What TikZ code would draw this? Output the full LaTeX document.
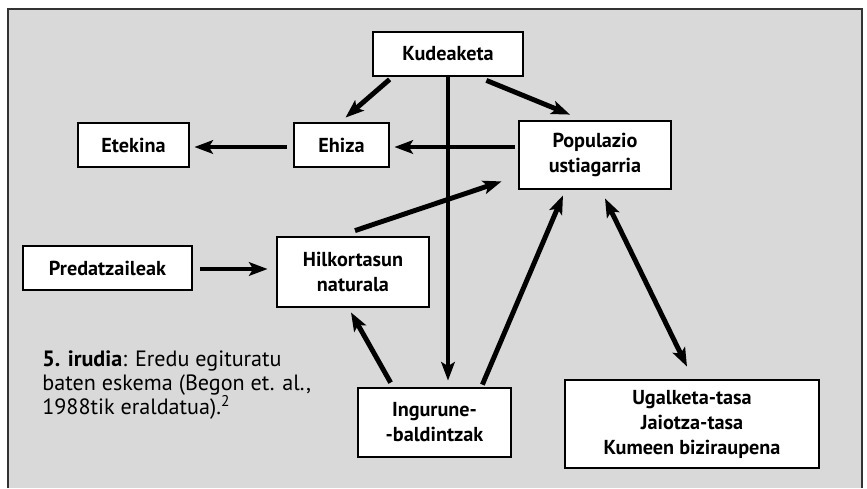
\documentclass[tikz,border=0pt]{standalone}
\usepackage{fontspec}
\setmainfont{PT Sans}
\usepackage{xcolor}
\usepackage{tikz}
\usetikzlibrary{arrows.meta, calc}
\definecolor{FR_GRAY}{HTML}{D9D9D9}
\definecolor{FR_LINE}{HTML}{333333}
\tikzset{
  box/.style={
    rectangle, minimum height=0.88cm, inner sep=2pt,
    text centered, align=center,
    draw=black, line width=1.6pt, fill=white,
    font=\bfseries\fontsize{11.5}{14.2}\selectfont},
  arr/.style={-{Stealth[length=0.37cm,width=0.27cm,inset=0.08cm]}, line width=2.8pt, color=black},
  dblarr/.style={{Stealth[length=0.37cm,width=0.27cm,inset=0.08cm]}-{Stealth[length=0.37cm,width=0.27cm,inset=0.08cm]}, line width=2.8pt, color=black},
  capt/.style={
    anchor=north west, inner sep=0pt, align=left,
    font=\fontsize{12.6}{13.8}\selectfont},
}

\begin{document}
\begin{tikzpicture}[x=0.02cm, y=-0.02cm]

  \useasboundingbox (0,0) rectangle (867,488);
  \fill[white] (0,0) rectangle (867,488);
  \fill[FR_GRAY] (8,9) rectangle (862,488);
  \draw[FR_LINE, line width=0.9pt] (8,488) -- (8,9) -- (862,9) -- (862,488);

  \node[box, minimum width=3.0cm] (kud) at (448,54) {Kudeaketa};

  \node[box, minimum width=1.9cm] (ehiza) at (341.5,145) {Ehiza};

  \node[box, minimum width=2.22cm] (etek) at (133.5,145) {Etekina};

  \node[box, minimum width=3.04cm, minimum height=1.36cm] (pop) at (595,155)
    {Populazio\\ustiagarria};

  \node[box, minimum width=3.38cm] (pred) at (107.5,268) {Predatzaileak};

  \node[box, minimum width=3.04cm, minimum height=1.4cm] (hilk) at (353,272)
    {Hilkortasun\\naturala};

  \node[box, minimum width=3.06cm, minimum height=1.38cm] (ing) at (434.5,422.5)
    {Ingurune-\\-baldintzak};

  \node[box, minimum width=5.08cm, minimum height=1.76cm] (ugal) at (692,424)
    {Ugalketa-tasa\\Jaiotza-tasa\\Kumeen biziraupena};

  \node[capt] (capt) at (42,350)
    {\textbf{5. irudia}: Eredu egituratu\\baten eskema (Begon et. al.,\\1988tik eraldatua).\textsuperscript{2}};

  \draw[arr] ($(kud.south west)+(18,2)$)  -- ($(ehiza.north)+(4,-4)$);
  \draw[arr] ($(kud.south east)+(-38,3)$) -- ($(pop.north)+(-25,-5)$);
  \draw[arr] (kud.south) -- ($(kud.south |- ing.north)+(0,-6)$);
  \draw[arr] ($(pop.west)+(-3,-8)$)       -- ($(ehiza.east)+(4,2)$);
  \draw[arr] ($(ehiza.west)+(-6,2)$)      -- ($(etek.east)+(4,2)$);
  \draw[arr] ($(hilk.north)+(2,-5)$)      -- ($(pop.south west)+(-16,-9)$);
  \draw[arr] ($(pred.east)+(7,1)$)        -- ($(hilk.west)+(-8,-3)$);
  \draw[arr] ($(ing.north west)+(34,-4)$) -- ($(hilk.south)+(-2,4)$);
  \draw[arr] ($(ing.north east)+(-30,-2)$) -- ($(pop.south)+(-32,5)$);
  \draw[dblarr] ($(pop.south)+(10,8)$)    -- ($(ugal.north)+(-5,-12)$);

\end{tikzpicture}
\end{document}
